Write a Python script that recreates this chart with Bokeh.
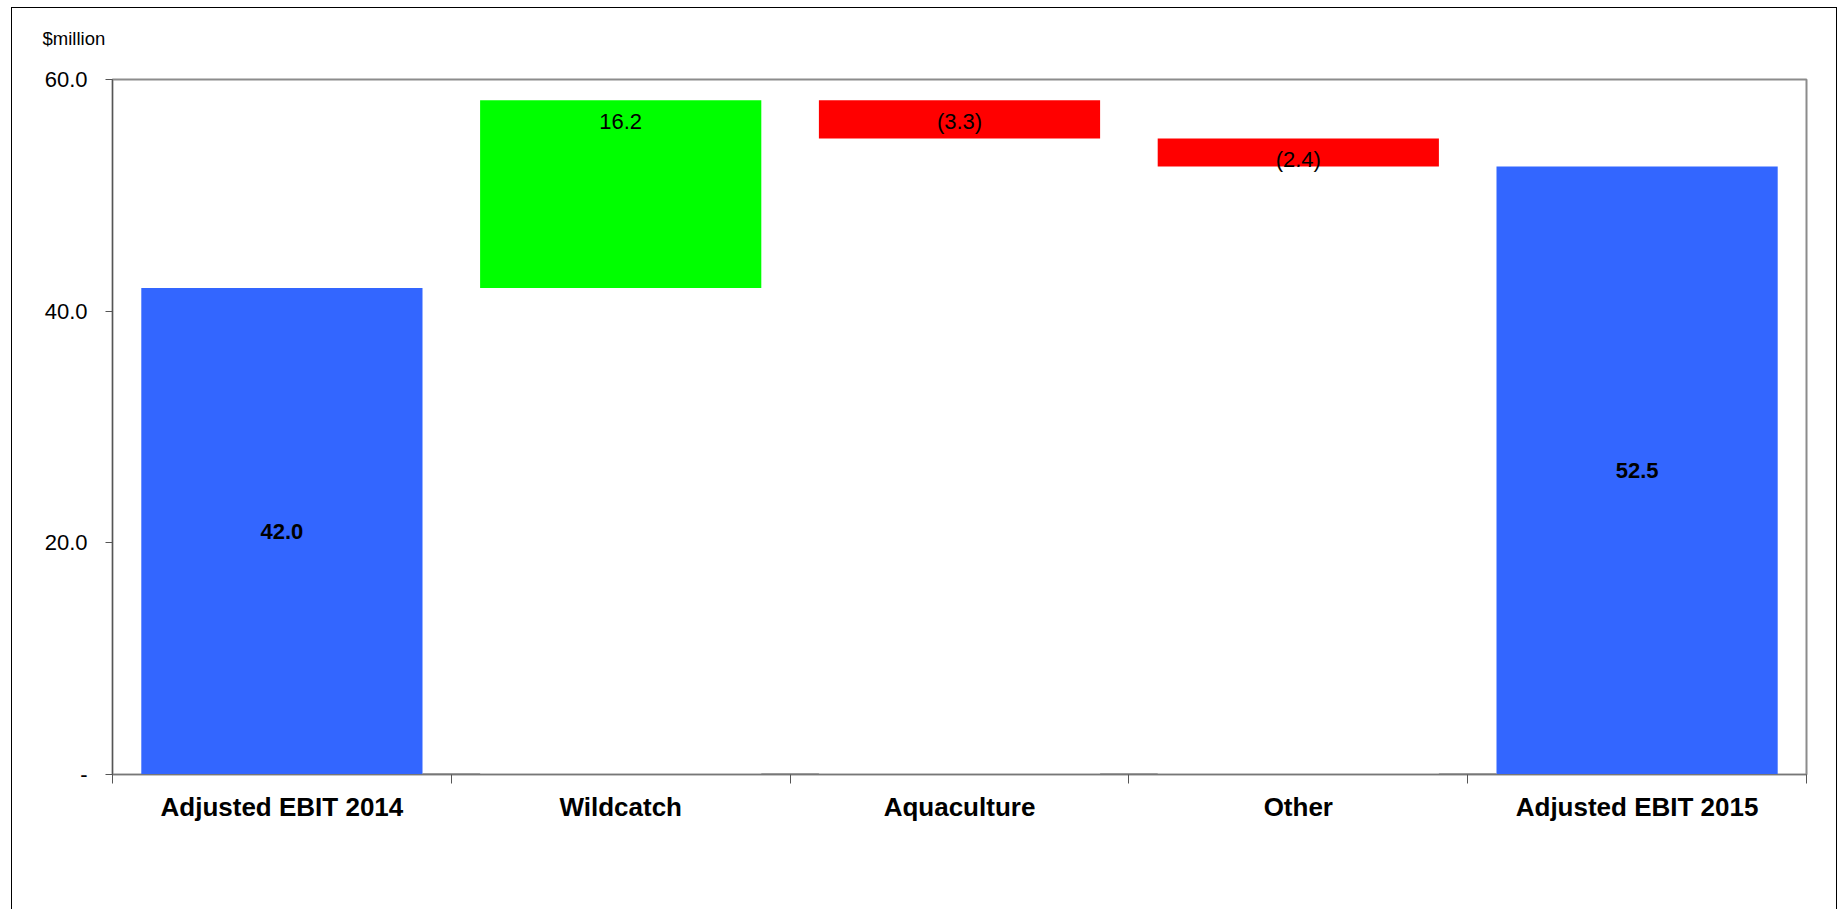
from bokeh.plotting import figure
from bokeh.models import ColumnDataSource, FixedTicker, Range1d, Title
from bokeh.embed import file_html
from bokeh.resources import INLINE
from bokeh.core.properties import value

# Waterfall data ($million)
categories = ["Adjusted EBIT 2014", "Wildcatch", "Aquaculture", "Other", "Adjusted EBIT 2015"]
opening_total = 42.0
changes = [16.2, -3.3, -2.4]
closing_total = 52.5
y_ticks = [0, 20, 40, 60]
y_tick_labels = ["-", "20.0", "40.0", "60.0"]

FONT = "Liberation Sans"
TOTAL_COLOR = "#3366FF"
UP_COLOR = "#00FF00"
DOWN_COLOR = "#FF0000"
BAR_WIDTH = 0.83

# Build floating bar extents
bottoms, tops, colors = [0.0], [opening_total], [TOTAL_COLOR]
running = opening_total
for c in changes:
    start, end = running, running + c
    bottoms.append(min(start, end))
    tops.append(max(start, end))
    colors.append(UP_COLOR if c >= 0 else DOWN_COLOR)
    running = end
bottoms.append(0.0)
tops.append(closing_total)
colors.append(TOTAL_COLOR)

centers = [i + 0.5 for i in range(len(categories))]
bars = ColumnDataSource(dict(x=centers, bottom=bottoms, top=tops, color=colors))

p = figure(width=1826, height=902,
           x_range=Range1d(0, len(categories)), y_range=Range1d(0, 60),
           output_backend="svg", toolbar_location=None,
           min_border_left=100, min_border_right=32,
           min_border_top=71, min_border_bottom=136)
p.styles = {"margin-left": "11px", "margin-top": "7px",
            "border-left": "1px solid #000", "border-top": "1px solid #000",
            "border-right": "1px solid #000"}

# unit caption, lifted off the frame by a blank spacer title beneath it
p.title.text = "$million"
p.title.align = "left"
p.title.offset = -70
p.title.standoff = 0
p.title.text_font = FONT
p.title.text_font_size = "18.5px"
p.title.text_font_style = "normal"
p.title.text_color = "black"
p.add_layout(Title(text="\u00a0", text_font_size="8px", standoff=20), "above")

p.vbar(x="x", bottom="bottom", top="top", width=BAR_WIDTH, color="color",
       line_color=None, source=bars)

# short baseline pieces filling the gaps between bars
gap_x0 = [c + BAR_WIDTH / 2 for c in centers[:-1]]
gap_x1 = [c - BAR_WIDTH / 2 for c in centers[1:]]
p.segment(x0=gap_x0, x1=gap_x1, y0=[0] * len(gap_x0), y1=[0] * len(gap_x0),
          line_color="#9a9a9a", line_width=3)

# total labels: bold, centred in the bar
tot_idx = [0, len(categories) - 1]
tot_vals = [opening_total, closing_total]
p.text(x=[centers[i] for i in tot_idx], y=[tops[i] / 2 for i in tot_idx],
       text=[f"{v:.1f}" for v in tot_vals],
       text_font=value(FONT), text_font_size="22px", text_font_style="bold",
       text_align="center", text_baseline="middle", text_color="black")

# change labels: near the top of each floating bar, negatives in brackets
chg_idx = list(range(1, len(categories) - 1))
chg_text = [f"{c:.1f}" if c >= 0 else f"({abs(c):.1f})" for c in changes]
p.text(x=[centers[i] for i in chg_idx], y=[tops[i] for i in chg_idx],
       text=chg_text, y_offset=21,
       text_font=value(FONT), text_font_size="22px",
       text_align="center", text_baseline="middle", text_color="black")

# axes
p.xgrid.visible = False
p.ygrid.visible = False
p.outline_line_color = "#8c8c8c"
p.outline_line_width = 2

ya = p.yaxis[0]
ya.ticker = FixedTicker(ticks=y_ticks)
ya.major_label_overrides = dict(zip(y_ticks, y_tick_labels))
ya.major_tick_out = 7
ya.major_tick_in = 0
ya.minor_tick_out = 0
ya.minor_tick_in = 0
ya.axis_line_color = "#555555"
ya.major_tick_line_color = "#555555"
ya.major_label_standoff = 18
ya.major_label_text_font = FONT
ya.major_label_text_font_size = "22px"
ya.major_label_text_color = "black"

xa = p.xaxis[0]
xa.ticker = FixedTicker(ticks=centers, minor_ticks=list(range(len(categories) + 1)))
xa.major_label_overrides = dict(zip(centers, categories))
xa.major_tick_out = 0
xa.major_tick_in = 0
xa.minor_tick_out = 9
xa.minor_tick_in = 0
xa.minor_tick_line_color = "#555555"
xa.axis_line_color = "#777777"
xa.major_label_standoff = 8
xa.major_label_text_font = FONT
xa.major_label_text_font_size = "26px"
xa.major_label_text_font_style = "bold"
xa.major_label_text_color = "black"

open("out.html", "w").write(file_html(p, INLINE))
